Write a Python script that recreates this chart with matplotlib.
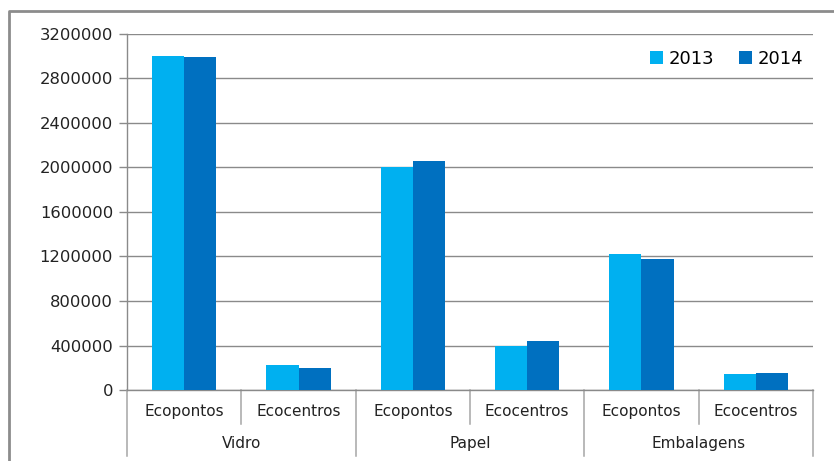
import matplotlib
matplotlib.use("Agg")
import matplotlib.pyplot as plt
from matplotlib.patches import Patch
from matplotlib.lines import Line2D
import numpy as np

groups = ["Vidro", "Papel", "Embalagens"]
subcats = ["Ecopontos", "Ecocentros"]
series = ["2013", "2014"]
values_2013 = [3000000, 225000, 2005000, 395000, 1222000, 141000]
values_2014 = [2995000, 200000, 2058000, 440000, 1177000, 150000]
yticks = [0, 400000, 800000, 1200000, 1600000, 2000000, 2400000, 2800000, 3200000]
colors = ["#00B0F0", "#0070C0"]

W, H = 834, 461
fig = plt.figure(figsize=(W / 100, H / 100), dpi=100)
L, R, T, B = 127, 813, 34, 390
ax = fig.add_axes([L / W, 1 - B / H, (R - L) / W, (B - T) / H])

grid_c = "#8A8A8A"
n = len(values_2013)
x = np.arange(n)
bw = 0.28
ax.bar(x - bw / 2, values_2013, bw, color=colors[0], zorder=3)
ax.bar(x + bw / 2, values_2014, bw, color=colors[1], zorder=3)

ax.set_xlim(-0.5, n - 0.5)
ax.set_ylim(0, yticks[-1])
ax.set_yticks(yticks)
ax.set_yticklabels([str(v) for v in yticks], family="DejaVu Sans", fontsize=11.8, color="#222222")
ax.yaxis.grid(True, color=grid_c, linewidth=1.0, zorder=0)
ax.tick_params(axis="y", length=6, width=1, color=grid_c, pad=4)
ax.set_xticks([])
for s in ["top", "right"]:
    ax.spines[s].set_visible(False)
ax.spines["left"].set_color(grid_c)
ax.spines["bottom"].set_color(grid_c)
ax.spines["left"].set_linewidth(1.0)
ax.spines["bottom"].set_linewidth(1.0)

ah = B - T
inner_y = -(424 - B) / ah
outer_y = -(456 - B) / ah
lab1_y = -(411 - B) / ah
lab2_y = -(443 - B) / ah
tr = ax.get_xaxis_transform()
fam = ["Liberation Sans Narrow", "DejaVu Sans"]
ns = len(subcats)
for i in range(n):
    ax.text(i, lab1_y, subcats[i % ns], transform=tr, ha="center", va="center",
            fontsize=11, family=fam, color="#222222")
for i in range(n + 1):
    xb = i - 0.5
    yb = outer_y if i % ns == 0 else inner_y
    ax.plot([xb, xb], [0, yb], transform=tr, color="#A6A6A6", lw=1.1, clip_on=False)
for g, name in enumerate(groups):
    ax.text(g * ns + (ns - 1) / 2, lab2_y, name, transform=tr, ha="center", va="center",
            fontsize=11, family=fam, color="#222222")

handles = [Patch(facecolor=c, edgecolor="none") for c in colors]
fig.legend(handles, series, loc="center right", bbox_to_anchor=(803 / W, 1 - 59 / H),
           bbox_transform=fig.transFigure, ncol=2, frameon=False, borderpad=0,
           borderaxespad=0, handlelength=0.7, handleheight=0.7, handletextpad=0.3,
           columnspacing=1.4, prop={"family": "DejaVu Sans", "size": 13})

fig.add_artist(Line2D([9 / W, 9 / W, 1.0], [0.0, 1 - 11 / H, 1 - 11 / H],
                      transform=fig.transFigure, color="#8C8C8C", lw=2))

fig.savefig("out.png", dpi=100)
